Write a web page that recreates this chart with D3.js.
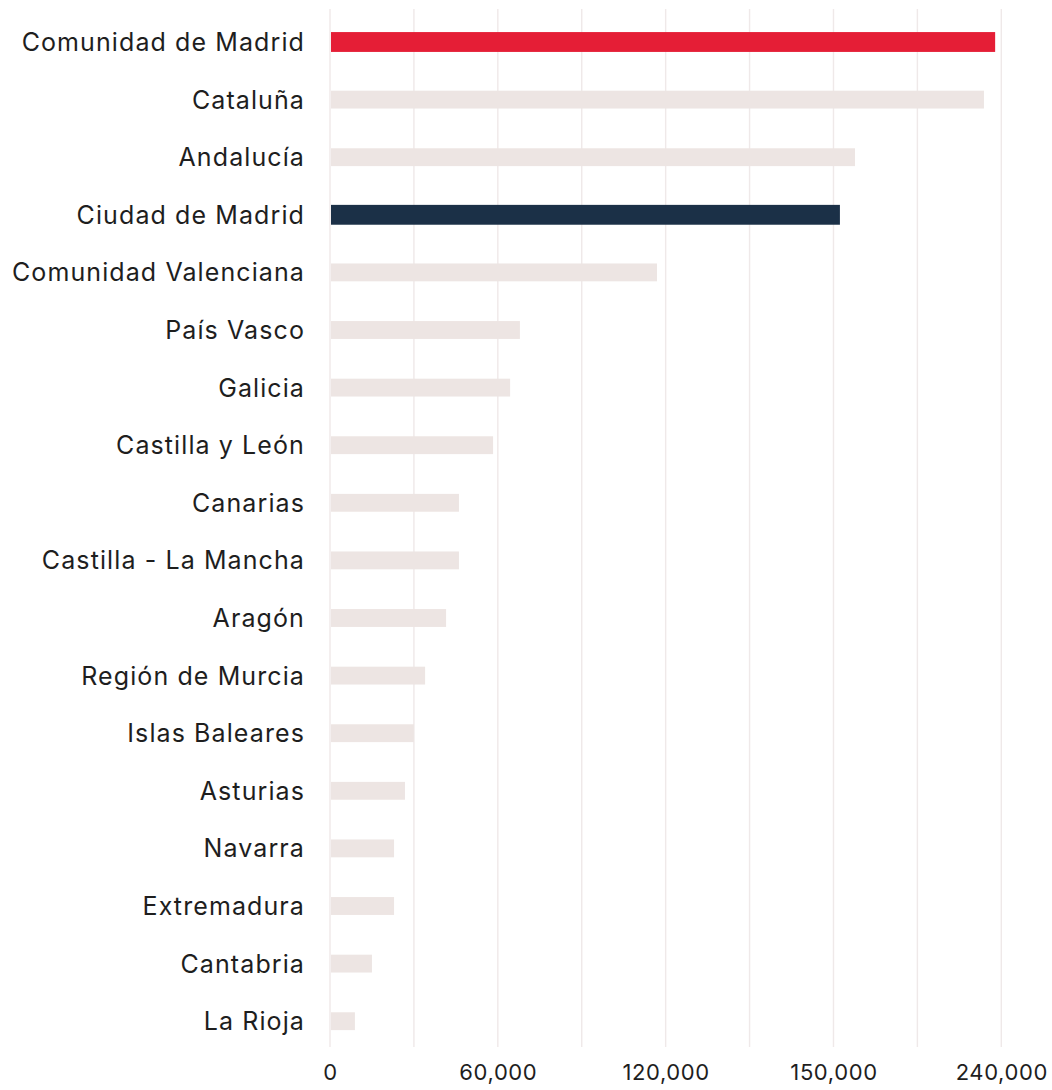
<!DOCTYPE html>
<html>
<head>
<meta charset="utf-8">
<script src="https://cdn.jsdelivr.net/npm/d3@7"></script>
<style>
  html, body { margin: 0; padding: 0; background: #fff; }
  svg { display: block; }
  text { font-family: Inter, "Noto Sans", sans-serif; fill: #1e1e1e; }
</style>
</head>
<body>
<svg id="chart" width="1052" height="1090"></svg>
<script>
const regions = ["Comunidad de Madrid","Cataluña","Andalucía","Ciudad de Madrid","Comunidad Valenciana","País Vasco","Galicia","Castilla y León","Canarias","Castilla - La Mancha","Aragón","Región de Murcia","Islas Baleares","Asturias","Navarra","Extremadura","Cantabria","La Rioja"];
const values = [237800, 233800, 187700, 182300, 116900, 67900, 64400, 58300, 46100, 46100, 41500, 34000, 30000, 26800, 22900, 22900, 15000, 8900];
const highlight = {"Comunidad de Madrid": "#e51e36", "Ciudad de Madrid": "#1b3047"};
const gridValues = [0, 30000, 60000, 90000, 120000, 150000, 180000, 210000, 240000];
const tickValues = [0, 60000, 120000, 180000, 240000];
const tickLabels = ["0", "60,000", "120,000", "150,000", "240,000"];

const svg = d3.select("#chart");
const x = d3.scaleLinear().domain([0, 240000]).range([330, 1001.3]);
const y = d3.scaleBand().domain(regions).range([13.2, 1050]).paddingInner(0.69).paddingOuter(0.345);

// gridlines
svg.append("g").selectAll("line").data(gridValues).join("line")
  .attr("x1", d => x(d)).attr("x2", d => x(d))
  .attr("y1", 9).attr("y2", 1047)
  .attr("stroke", "#efe9e9").attr("stroke-width", 1.4);

// bars
svg.append("g").selectAll("rect").data(regions).join("rect")
  .attr("x", x(0) + 1)
  .attr("y", d => highlight[d] ? y(d) - 1 : y(d))
  .attr("height", d => highlight[d] ? y.bandwidth() + 2 : y.bandwidth())
  .attr("width", (d, i) => x(values[i]) - x(0) - 1)
  .attr("fill", d => highlight[d] || "#ede5e3");

// category labels
svg.append("g").selectAll("text").data(regions).join("text")
  .attr("x", 305)
  .attr("y", d => y(d) + y.bandwidth() / 2)
  .attr("dy", "0.36em")
  .attr("text-anchor", "end")
  .attr("font-size", 25)
  .style("letter-spacing", "1.1px")
  .text(d => d);

// x axis labels
const axis = d3.axisBottom(x).tickValues(tickValues).tickSize(0).tickPadding(0)
  .tickFormat((d, i) => tickLabels[i]);
const ga = svg.append("g").attr("transform", "translate(0,1064)").call(axis);
ga.select(".domain").remove();
ga.selectAll("text").attr("font-size", 22).attr("fill", "#1e1e1e")
  .style("font-family", "Inter, 'Noto Sans', sans-serif")
  .style("letter-spacing", "0.6px")
  .attr("dy", "0.71em");
</script>
</body>
</html>
